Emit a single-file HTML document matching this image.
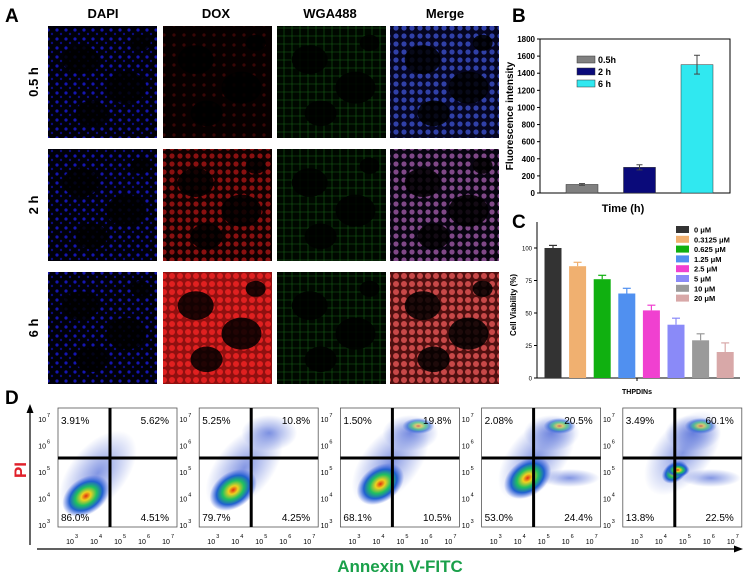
<!DOCTYPE html>
<html><head><meta charset="utf-8"><style>
html,body{margin:0;padding:0;background:#fff;}
svg{display:block;font-family:"Liberation Sans",Arial,sans-serif;}
</style></head><body>
<svg id="fig" width="744" height="579" viewBox="0 0 744 579" xmlns="http://www.w3.org/2000/svg">
<defs>
<pattern id="pBlue" width="9" height="9" patternUnits="userSpaceOnUse"><rect width="9" height="9" fill="#000008"/><circle cx="3" cy="3" r="1.6" fill="#1515b0"/><circle cx="7" cy="7" r="1.2" fill="#0c0c80"/></pattern>
<pattern id="pRed1" width="10" height="10" patternUnits="userSpaceOnUse"><rect width="10" height="10" fill="#060000"/><circle cx="4" cy="5" r="1.6" fill="#3a0606"/></pattern>
<pattern id="pRed2" width="8" height="8" patternUnits="userSpaceOnUse"><rect width="8" height="8" fill="#100000"/><circle cx="4" cy="4" r="2.6" fill="#8a1010"/></pattern>
<pattern id="pRed3" width="8" height="8" patternUnits="userSpaceOnUse"><rect width="8" height="8" fill="#901010"/><circle cx="4" cy="4" r="3" fill="#e02020"/></pattern>
<pattern id="pGreen" width="8" height="8" patternUnits="userSpaceOnUse"><rect width="8" height="8" fill="#000800"/><path d="M0 4 L8 4 M4 0 L4 8" stroke="#156015" stroke-width="0.6"/></pattern>
<pattern id="pM1" width="8" height="8" patternUnits="userSpaceOnUse"><rect width="8" height="8" fill="#050520"/><circle cx="4" cy="4" r="2.6" fill="#3040a8"/></pattern>
<pattern id="pM2" width="8" height="8" patternUnits="userSpaceOnUse"><rect width="8" height="8" fill="#080410"/><circle cx="4" cy="4" r="2.6" fill="#804888"/></pattern>
<pattern id="pM3" width="8" height="8" patternUnits="userSpaceOnUse"><rect width="8" height="8" fill="#501010"/><circle cx="4" cy="4" r="3" fill="#c84848"/></pattern>
<radialGradient id="dens"><stop offset="0" stop-color="#e03010"/><stop offset="0.2" stop-color="#f0d020"/><stop offset="0.45" stop-color="#20c060"/><stop offset="0.7" stop-color="#2060d0"/><stop offset="1" stop-color="#4060e0" stop-opacity="0"/></radialGradient>
<radialGradient id="sparse"><stop offset="0" stop-color="#3050d0" stop-opacity="0.6"/><stop offset="1" stop-color="#3050d0" stop-opacity="0"/></radialGradient>
</defs>

<text x="5" y="22" font-size="19" font-weight="bold">A</text>
<g font-size="13" font-weight="bold" text-anchor="middle">
<text x="103" y="18">DAPI</text><text x="216" y="18">DOX</text><text x="330" y="18">WGA488</text><text x="445" y="18">Merge</text>
</g>
<g font-size="13" font-weight="bold" text-anchor="middle">
<text transform="translate(38,82) rotate(-90)">0.5 h</text>
<text transform="translate(38,205) rotate(-90)">2 h</text>
<text transform="translate(38,328) rotate(-90)">6 h</text>
</g>
<g id="micro"></g>

<text x="512" y="22" font-size="19" font-weight="bold">B</text>
<g id="chartB"></g>
<text x="512" y="228" font-size="19" font-weight="bold">C</text>
<g id="chartC"></g>

<text x="5" y="404" font-size="19" font-weight="bold">D</text>
<line x1="30" y1="545" x2="30" y2="412" stroke="#000" stroke-width="1.2"/>
<polygon points="30,404 26.5,413 33.5,413" fill="#000"/>
<line x1="37" y1="549" x2="735" y2="549" stroke="#000" stroke-width="1.2"/>
<polygon points="743,549 734,545.5 734,552.5" fill="#000"/>
<text transform="translate(26,470) rotate(-90)" font-size="17" font-weight="bold" fill="#e0202a" text-anchor="middle">PI</text>
<text x="400" y="572" font-size="17" font-weight="bold" fill="#1aa04a" text-anchor="middle">Annexin V-FITC</text>
<g id="flow"></g>
</svg>
<script>
const NS="http://www.w3.org/2000/svg";
function mk(tag,attrs,parent){const e=document.createElementNS(NS,tag);for(const k in attrs)e.setAttribute(k,attrs[k]);parent.appendChild(e);return e;}

const colX=[48,163,277,390], rowY=[26,149,272];
const fills=[["pBlue","pRed1","pGreen","pM1"],["pBlue","pRed2","pGreen","pM2"],["pBlue","pRed3","pGreen","pM3"]];
const micro=document.getElementById('micro');
rowY.forEach((y,r)=>colX.forEach((x,c)=>{
  const im=mk('rect',{x:x,y:y,width:109,height:112,fill:'url(#'+fills[r][c]+')'},micro);
  
  
  [[0.3,0.3,18],[0.72,0.55,20],[0.4,0.78,16],[0.85,0.15,10]].forEach(v=>{
    mk('ellipse',{cx:x+v[0]*109,cy:y+v[1]*112,rx:v[2],ry:v[2]*0.8,fill:'#000',opacity:0.85},micro);
  });
}));

const bCats=["0.5h","2 h","6 h"];
const bVals=[100,300,1500];
const bErr=[10,30,110];
const bColors=["#808080","#0a0a7a","#30e8f0"];
const bTicks=[0,200,400,600,800,1000,1200,1400,1600,1800];
(function(){
  const g=document.getElementById('chartB');
  const L=540,R=730,T=39,B=193,max=1800;
  const y=v=>B-(v/max)*(B-T);
  const xc=i=>582+i*57.5;
  mk('rect',{x:L,y:T,width:R-L,height:B-T,fill:'none',stroke:'#000','stroke-width':1},g);
  bTicks.forEach(t=>{
    mk('line',{x1:L-3,y1:y(t),x2:L,y2:y(t),stroke:'#000'},g);
    const tx=mk('text',{x:L-5,y:y(t)+3,'font-size':8,'font-weight':'bold','text-anchor':'end'},g);tx.textContent=t;
  });
  bVals.forEach((v,i)=>{
    const b=mk('rect',{x:xc(i)-16,y:y(v),width:32,height:B-y(v),fill:bColors[i],stroke:'#333','stroke-width':0.5},g);
    
    
    mk('line',{x1:xc(i),y1:y(v+bErr[i]),x2:xc(i),y2:y(v-bErr[i]),stroke:'#444'},g);
    mk('line',{x1:xc(i)-3,y1:y(v+bErr[i]),x2:xc(i)+3,y2:y(v+bErr[i]),stroke:'#444'},g);
    mk('line',{x1:xc(i)-3,y1:y(v-bErr[i]),x2:xc(i)+3,y2:y(v-bErr[i]),stroke:'#444'},g);
    mk('rect',{x:577,y:56+i*12,width:18,height:7,fill:bColors[i],stroke:'#333','stroke-width':0.5},g);
    const lt=mk('text',{x:598,y:63+i*12,'font-size':9,'font-weight':'bold'},g);lt.textContent=bCats[i];
    
    
  });
  const yt=mk('text',{transform:'translate(513,'+((T+B)/2)+') rotate(-90)','font-size':10,'font-weight':'bold','text-anchor':'middle'},g);yt.textContent="Fluorescence intensity";
  
  
  const xt=mk('text',{x:623,y:212,'font-size':11,'font-weight':'bold','text-anchor':'middle'},g);xt.textContent="Time (h)";
  
  
})();

const cCats=["0 μM","0.3125 μM","0.625 μM","1.25 μM","2.5 μM","5 μM","10 μM","20 μM"];
const cVals=[100,86,76,65,52,41,29,20];
const cErr=[2,3,3,4,4,5,5,7];
const cColors=["#333333","#f0b070","#10b010","#5090f0","#f040d0","#8a8af8","#9a9a9a","#d8a8a8"];
const cTicks=[0,25,50,75,100];
(function(){
  const g=document.getElementById('chartC');
  const L=537,B=378,per=130/100;
  const y=v=>B-v*per;
  const xc=i=>553+i*24.6;
  mk('line',{x1:L,y1:222,x2:L,y2:B,stroke:'#000'},g);
  mk('line',{x1:L,y1:B,x2:740,y2:B,stroke:'#000'},g);
  mk('line',{x1:637,y1:B,x2:637,y2:B+3,stroke:'#000'},g);
  cTicks.forEach(t=>{
    mk('line',{x1:L-3,y1:y(t),x2:L,y2:y(t),stroke:'#000'},g);
    const tx=mk('text',{x:L-5,y:y(t)+2.5,'font-size':6,'text-anchor':'end'},g);tx.textContent=t;
  });
  cVals.forEach((v,i)=>{
    const b=mk('rect',{x:xc(i)-8.5,y:y(v),width:17,height:B-y(v),fill:cColors[i]},g);
    
    
    mk('line',{x1:xc(i),y1:y(v),x2:xc(i),y2:y(v+cErr[i]),stroke:cColors[i],'stroke-width':1.2},g);
    mk('line',{x1:xc(i)-4,y1:y(v+cErr[i]),x2:xc(i)+4,y2:y(v+cErr[i]),stroke:cColors[i],'stroke-width':1.2},g);
    mk('rect',{x:676,y:226+i*9.8,width:13,height:7,fill:cColors[i]},g);
    const lt=mk('text',{x:694,y:232.5+i*9.8,'font-size':7.5,'font-weight':'bold'},g);lt.textContent=cCats[i];
    
    
  });
  const yt=mk('text',{transform:'translate(516,305) rotate(-90)','font-size':8,'font-weight':'bold','text-anchor':'middle'},g);yt.textContent="Cell Viability (%)";
  
  
  const xt=mk('text',{x:637,y:394,'font-size':7,'font-weight':'bold','text-anchor':'middle'},g);xt.textContent="THPDINs";
  
  
})();

const qUL=["3.91%","5.25%","1.50%","2.08%","3.49%"];
const qUR=["5.62%","10.8%","19.8%","20.5%","60.1%"];
const qLL=["86.0%","79.7%","68.1%","53.0%","13.8%"];
const qLR=["4.51%","4.25%","10.5%","24.4%","22.5%"];
const yExp=["7","6","5","4","3"];
(function(){
  const g=document.getElementById('flow');
  const W=119,H=119,T=408;
  for(let p=0;p<5;p++){
    const L=58+p*141.2;
    const pg=mk('g',{},g);
    
    
    mk('rect',{x:L,y:T,width:W,height:H,fill:'#fff',stroke:'#555','stroke-width':0.8},pg);
    const shift=p*5;
    const cx1=L+40+shift, cy1=T+65-shift;
    mk('ellipse',{cx:cx1,cy:cy1,rx:28,ry:50,fill:'url(#sparse)',transform:'rotate(40 '+cx1+' '+cy1+')'},pg);
    if(p>=1) mk('ellipse',{cx:L+70,cy:T+25,rx:28,ry:18,fill:'url(#sparse)'},pg);
    if(p>=3) mk('ellipse',{cx:L+88,cy:T+70,rx:30,ry:9,fill:'url(#sparse)'},pg);
    const dSize=p==4?0.55:1;
    const cx2=L+28+shift*1.2, cy2=T+88-shift*1.2;
    mk('ellipse',{cx:cx2,cy:cy2,rx:26*dSize,ry:18*dSize,fill:'url(#dens)',transform:'rotate(-35 '+cx2+' '+cy2+')'},pg);
    if(p==4) mk('ellipse',{cx:L+55,cy:T+62,rx:12,ry:7,fill:'url(#dens)'},pg);
    if(p>=2) mk('ellipse',{cx:L+78,cy:T+18,rx:16,ry:8,fill:'url(#dens)',opacity:0.6},pg);
    mk('line',{x1:L+52,y1:T,x2:L+52,y2:T+H,stroke:'#000','stroke-width':3},pg);
    mk('line',{x1:L,y1:T+50,x2:L+W,y2:T+50,stroke:'#000','stroke-width':3},pg);
    const fs={'font-size':10};
    let t;
    t=mk('text',Object.assign({x:L+3,y:T+16},fs),pg);t.textContent=qUL[p];
    t=mk('text',Object.assign({x:L+W-8,y:T+16,'text-anchor':'end'},fs),pg);t.textContent=qUR[p];
    t=mk('text',Object.assign({x:L+3,y:T+H-6},fs),pg);t.textContent=qLL[p];
    t=mk('text',Object.assign({x:L+W-8,y:T+H-6,'text-anchor':'end'},fs),pg);t.textContent=qLR[p];
    yExp.forEach((e,i)=>{
      const yy=T+14+i*26.5;
      const tt=mk('text',{x:L-12,y:yy,'font-size':7,'text-anchor':'end'},pg);tt.textContent="10";
      const ex=mk('text',{x:L-11,y:yy-5,'font-size':5.5},pg);ex.textContent=e;
    });
    ["3","4","5","6","7"].forEach((e,i)=>{
      const xx=L+12+i*24;
      const tt=mk('text',{x:xx,y:T+H+17,'font-size':7,'text-anchor':'middle'},pg);tt.textContent="10";
      const ex=mk('text',{x:xx+5,y:T+H+11,'font-size':5.5},pg);ex.textContent=e;
    });
  }
})();
</script>
</body></html>
